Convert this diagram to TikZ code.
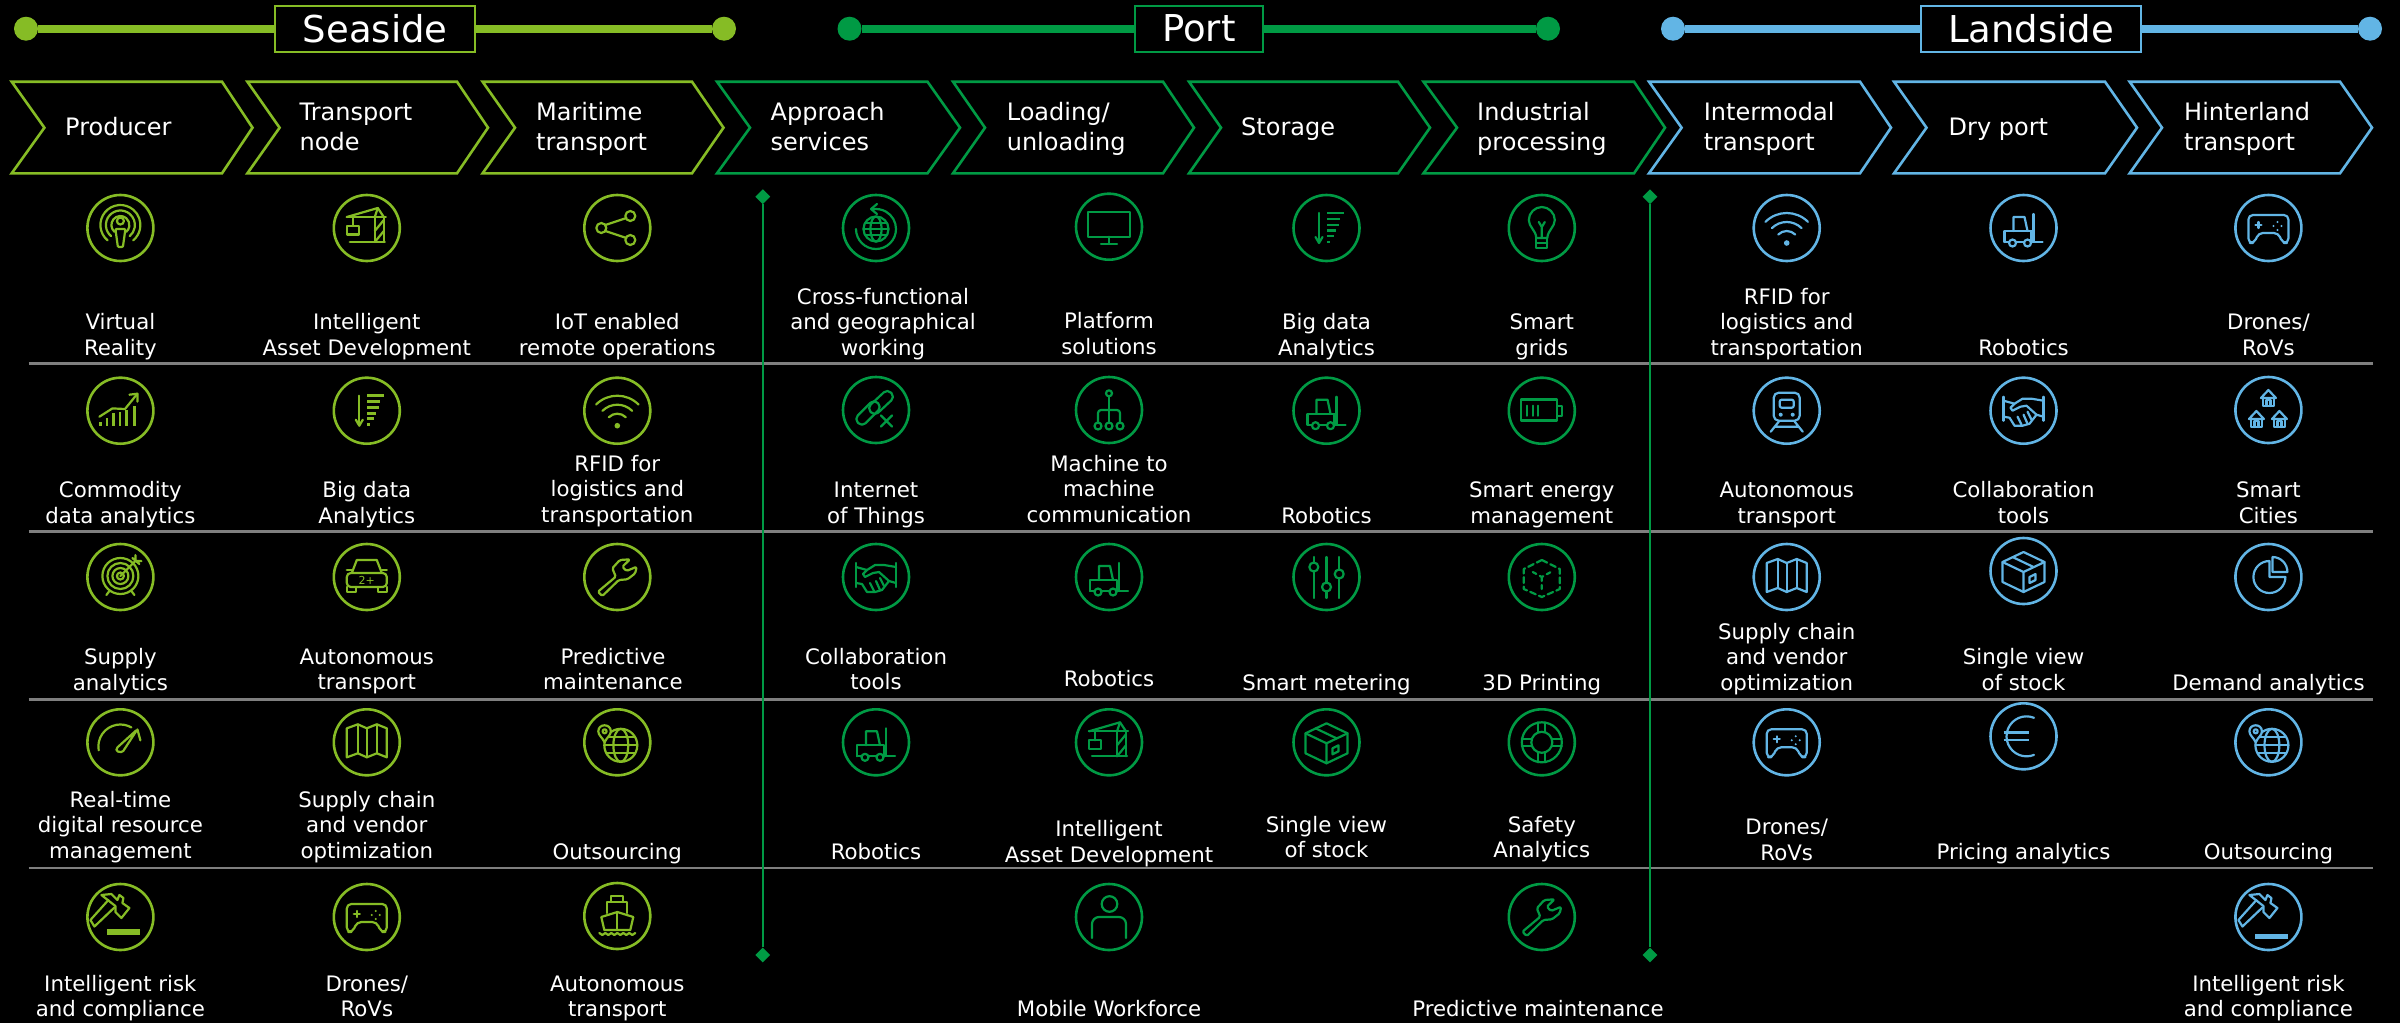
\documentclass[tikz,border=0pt]{standalone}
\usepackage{fontspec}
\setmainfont{DejaVu Sans}
\usetikzlibrary{shapes.geometric}
\definecolor{lime}{HTML}{86BC25}
\definecolor{dgreen}{HTML}{009A44}
\definecolor{sky}{HTML}{62B5E5}
\definecolor{rule}{HTML}{7F7F7F}
\tikzset{
  ring/.style={circle,draw,minimum size=66pt,inner sep=0pt,line width=2.6pt},
  lbl/.style={anchor=base,inner sep=0pt,text=white,font=\fontsize{21.3}{25.5}\selectfont},
  chevtxt/.style={anchor=base west,inner sep=0pt,text=white,font=\fontsize{24}{30.7}\selectfont},
  il/.style={line width=2.2pt,line cap=round,line join=round},
  enddot/.style={circle,fill,minimum size=24pt,inner sep=0pt},
  headbox/.style={draw,fill=black,line width=2.2pt,inner sep=0pt,minimum height=46pt,text=white,font=\fontsize{37}{40}\selectfont},
  hrule/.style={draw=rule,line width=2.6pt},
  endmark/.style={diamond,fill=dgreen,minimum size=15pt,inner sep=0pt}
}
% ---------- helpers
\newcommand{\mkcell}[7]{%
  \node[ring] (#1) at (#2,#3) {};
  \begin{scope}[shift={(#2,#3)},il] #4 \end{scope}
  \node[lbl] (#1t) at (#5,#6) {\begin{tabular}[b]{@{}c@{}}#7\end{tabular}};
}
\newcommand{\mkchev}[8]{%
  \draw[line width=2.6pt,line join=miter] (#2,81.7)--(#4,81.7)--(#5,127.7)--(#4,173.3)--(#2,173.3)--(#3,127.7)--cycle;
  \node[chevtxt] (#1) at (#6,#7) {\begin{tabular}[b]{@{}l@{}}#8\end{tabular}};
}
\newcommand{\gglobe}[3]{%
  \begin{scope}[shift={(#1,#2)}]
    \draw (0,0) circle[radius=#3];
    \draw (0,0) ellipse[x radius=0.45*#3,y radius=#3];
    \draw (-#3,0)--(#3,0);
    \draw ({-0.87*#3},{-0.48*#3})--({0.87*#3},{-0.48*#3});
    \draw ({-0.87*#3},{0.48*#3})--({0.87*#3},{0.48*#3});
  \end{scope}
}
% ---------- icons (local px, y down)
\newcommand{\icVR}{%
  \draw (0,-7) circle[radius=3.5];
  \draw[rounded corners=1pt] (-5,1)--(5,1)--(2.5,19)--(-2.5,19)--cycle;
  \foreach \r in {9,14.5,20}{\draw ({\r*cos(130)},{-3+\r*sin(130)}) arc[start angle=130,end angle=410,radius=\r];}
}
\newcommand{\icCrane}{%
  \draw (-17,14)--(18,14);
  \draw (8,14)--(8,-11) (17,14)--(17,-11);
  \draw (8,14)--(17,3) (8,3)--(17,-8);
  \draw (-20,-11)--(11,-20)--(17,-11);
  \draw (11,-20)--(8,-11);
  \draw (-20,-11)--(19,-11);
  \draw (-14,-11)--(-14,-2);
  \draw (-20,-2) rectangle (-8,6.5);
}
\newcommand{\icShare}{%
  \draw (-12,-3)--(9,-10) (-12,3)--(9,10);
  \fill[black] (-16,0) circle[radius=5];
  \draw (-16,0) circle[radius=5] (13,-12) circle[radius=5] (13,12) circle[radius=5];
}
\newcommand{\icBigData}{%
  \draw (-7.5,-15)--(-7.5,14);
  \draw (-11,9)--(-7.5,15)--(-4,9);
  \begin{scope}[line width=2.8pt,line cap=butt]
  \draw (0.5,-15)--(17,-15) (0.5,-9)--(13.5,-9) (0.5,-3)--(12,-3) (0.5,2.5)--(9,2.5) (0.5,8)--(7,8) (0.5,14)--(3,14);
  \end{scope}
}
\newcommand{\icWifi}{%
  \foreach \r in {12,21,30}{\draw ({\r*cos(225)},{15+\r*sin(225)}) arc[start angle=225,end angle=315,radius=\r];}
  \fill (0,15) circle[radius=2.8];
}
\newcommand{\icGamepad}{%
  \draw[rounded corners=4.5pt] (-10,5)--(-14,15)--(-20,15)--(-20,-13)--(20,-13)--(20,15)--(14,15)--(10,5)--cycle;
  \draw (-13,-3)--(-7,-3) (-10,-6)--(-10,0);
  \fill (9,-6) circle[radius=1.1] (5,-2) circle[radius=1.1] (13,-2) circle[radius=1.1] (9,2) circle[radius=1.1];
}
\newcommand{\icChart}{%
  \begin{scope}[line width=2.2pt,line cap=butt]
  \draw (-20,15)--(-20,11) (-13.5,15)--(-13.5,7.7) (-7,15)--(-7,2.7) (-.5,15)--(-.5,1) (6,15)--(6,-.7) (14,15)--(14,-5);
  \end{scope}
  \draw (-21,6)--(-8,-2.3)--(4.6,-1.7)--(17,-17);
  \draw (9,-16)--(17,-17)--(17,-9);
}
\newcommand{\icLink}{%
  \draw[shift={(-8,3)},rotate=-45,rounded corners=5pt] (-14,-5.5) rectangle (14,5.5);
  \draw[shift={(5,-7.5)},rotate=-43,rounded corners=5pt] (-14,-5.5) rectangle (14,5.5);
  \draw (5,5.5)--(16,16.5) (16,5.5)--(5,16.5);
}
\newcommand{\icGlobeArrow}{%
  \gglobe{0}{1}{12.5}
  \draw (-20,1) arc[start angle=180,end angle=-100,radius=20];
  \draw (1,-24)--(-5,-19)--(1,-14);
}
\newcommand{\icMonitor}{%
  \draw (-21,-15) rectangle (21,10);
  \draw (0,10)--(0,17) (-8,17)--(8,17);
}
\newcommand{\icPeerM}{%
  \draw (0,-16.7) circle[radius=3];
  \draw (0,-13.7)--(0,12);
  \draw[rounded corners=3pt] (-11,12)--(-11,0)--(11,0)--(11,12);
  \draw (-11,16) circle[radius=3.5] (0,16) circle[radius=3.5] (11,16) circle[radius=3.5];
}
\newcommand{\icForklift}{%
  \draw (10,-14)--(10,14)--(19,14);
  \draw (-10,3)--(-10,-11)--(1,-11)--(4,3);
  \draw (-19,14)--(-19,3)--(8,3)--(8,14);
  \draw (-19,14)--(-15,14) (-7.5,14)--(.5,14) (7.5,14)--(10,14);
  \draw (-11,15) circle[radius=3.5] (4,15) circle[radius=3.5];
}
\newcommand{\icBulb}{%
  \draw (-5.5,10) .. controls (-6,2) and (-13,-1) .. (-13,-8) .. controls (-13,-15) and (-7,-21) .. (0,-21)
     .. controls (7,-21) and (13,-15) .. (13,-8) .. controls (13,-1) and (6,2) .. (5.5,10)--cycle;
  \draw (-5.5,10) rectangle (5.5,20);
  \draw (-5.5,15)--(5.5,15);
  \draw (0,10)--(0,-1) (-3,-6)--(0,-1)--(3,-6);
}
\newcommand{\icBattery}{%
  \draw[line width=2.6pt] (-21,-11) rectangle (15,10);
  \draw (15,-5) rectangle (20,5);
  \draw (-15,-5)--(-15,5) (-9,-5)--(-9,5) (-3.5,-5)--(-3.5,5);
}
\newcommand{\icTrain}{%
  \draw[rounded corners=5pt] (-13,-18) rectangle (13,10);
  \draw[rounded corners=2pt] (-7,-11) rectangle (7,-3);
  \fill (-6,4) circle[radius=2] (6,4) circle[radius=2];
  \draw (-8,11)--(-16,21) (8,11)--(16,21) (-12,16)--(12,16);
}
\newcommand{\icShake}{%
  \draw (-20,-14)--(-20,10) (20,-14)--(20,10);
  \draw (-20,-10)--(-9,-7)--(-1,-12)--(8,-12)--(20,-10);
  \draw (-9,-7)--(-13,-3)--(-11,0)--(-3,-4)--(3,-5)--(13,4)--(20,6);
  \draw (-20,6)--(-14,7)--(-9,15)--(-1,15)--(6,13)--(13,4);
  \draw (-6,6)--(-2,14) (0,4)--(4,13) (4,1)--(8,9);
}
\newcommand{\house}[2]{%
  \begin{scope}[shift={(#1,#2)}]
    \draw (-7.5,0)--(0,-8)--(7.5,0)--cycle;
    \draw (-5.5,0)--(-5.5,8)--(5.5,8)--(5.5,0);
    \draw (-2,8)--(-2,2)--(2,2)--(2,8);
  \end{scope}
}
\newcommand{\icHouses}{\house{0}{-12}\house{-12}{9}\house{11}{9}}
\newcommand{\icTarget}{%
  \foreach \r in {18,13,8,3.5}{\draw (0,-1) circle[radius=\r];}
  \draw (0,-1)--(15,-16);
  \draw (12,-19)--(19,-13) (15,-22)--(15,-16)--(21,-16);
  \draw (-11,14)--(-14,18) (11,14)--(14,18);
}
\newcommand{\icCar}{%
  \draw[rounded corners=4pt] (-20,-4) rectangle (20,10);
  \draw (-15,-4)--(-10,-17)--(10,-17)--(15,-4);
  \draw (-20,10)--(-20,15)--(-11,15)--(-11,10) (20,10)--(20,15)--(11,15)--(11,10);
  \draw (-20,-7)--(-15,-7) (20,-7)--(15,-7);
  \node[inner sep=0pt,font=\fontsize{11}{12}\selectfont] (cartxt) at (0,3) {2+};
}
\newcommand{\icWrench}{%
  \draw[rounded corners=1.5pt] (-15,19)--(-19.4,14.7)--(-1.5,-.3)--(-5,-8.7)--(2.5,-17)--(12.8,-17.7)--(5,-10.3)--(9.2,-6)--(19.4,-10.3)--(17.9,-3.7)--(10.2,2.3)--(1.5,3)--cycle;
}
\newcommand{\icSliders}{%
  \draw (-12.7,-20)--(-12.7,21) (0,-20)--(0,21) (12.7,-20)--(12.7,21);
  \filldraw[fill=black] (-12.7,-10) circle[radius=4.5] (0,10) circle[radius=4.5] (12.7,-3) circle[radius=4.5];
}
\newcommand{\icCube}{%
  \draw[dash pattern=on 6pt off 3.5pt] (0,-17)--(18,-8)--(18,12)--(0,20)--(-18,12)--(-18,-8)--cycle;
  \draw[dash pattern=on 4pt off 4pt] (-9,-5)--(0,0)--(9,-5) (0,0)--(0,14);
}
\newcommand{\icMap}{%
  \draw (-20,-14)--(-9,-18)--(0,-14)--(10,-18)--(20,-14)--(20,15)--(10,11)--(0,15)--(-9,11)--(-20,15)--cycle;
  \draw (-9,-18)--(-9,11) (0,-14)--(0,15) (10,-18)--(10,11);
}
\newcommand{\icBox}{%
  \draw (0,-19)--(21,-9)--(21,11)--(0,21)--(-21,11)--(-21,-9)--cycle;
  \draw (-21,-9)--(0,1)--(21,-9) (0,1)--(0,21);
  \draw (-11,-14)--(10,-4);
  \draw (6,6)--(12,3)--(12,9)--(6,12)--cycle;
}
\newcommand{\icPie}{%
  \draw (17,0) arc[start angle=0,end angle=270,radius=16] --(1,0)--cycle;
  \draw (4,-20)--(4,-5)--(19,-5) arc[start angle=0,end angle=-90,radius=15];
}
\newcommand{\icGauge}{%
  \draw (-21.7,8) arc[start angle=170,end angle=300,radius=22];
  \draw[rounded corners=1.5pt] (-4,6)--(17,-13)--(2,10)--(-4,9)--cycle;
  \draw (17,-13)--(20,-2);
}
\newcommand{\icGlobePin}{%
  \gglobe{3.5}{3}{16.5}
  \filldraw[fill=black] (-12.7,0) .. controls (-15,-5) and (-19,-7) .. (-19,-11) .. controls (-19,-19) and (-6.5,-19) .. (-6.5,-11) .. controls (-6.5,-7) and (-10.5,-5) .. (-12.7,0)--cycle;
  \draw (-12.7,-11) circle[radius=2];
}
\newcommand{\icHammer}[2]{%
  \draw (-19,-22)--(-9,-23)--(-3,-17)--(-1,-22)--(3,-19)--(2,-14)--(9,-9)--(1,1)--(-5,-5)--(-5,-11)--cycle;
  \draw (-12,-17)--(-30,3)--(-26,9.5)--(-6,-9.5);
  \fill (-13,#1) rectangle (20,#2);
}
\newcommand{\icShip}{%
  \draw (-6,-14)--(-6,-20)--(6,-20)--(6,-14);
  \draw (-10,-3)--(-10,-14)--(10,-14)--(10,-3);
  \draw (-16,1)--(0,-4)--(16,1)--(13,14)--(-13,14)--cycle;
  \draw (0,-4)--(0,14);
  \draw (-18,17)--(-15,19)--(-12,17)--(-9,19)--(-6,17)--(-3,19)--(0,17)--(3,19)--(6,17)--(9,19)--(12,17)--(15,19)--(18,17);
}
\newcommand{\icPerson}{%
  \draw (0.5,-13) circle[radius=7.8];
  \draw[rounded corners=7pt] (-17,21)--(-17,0)--(17,0)--(17,21);
}
\newcommand{\icEuro}{%
  \draw (10.5,-18.5) arc[start angle=292,end angle=68,radius=20];
  \draw[line width=2.6pt,line cap=butt] (-20,-4)--(5,-4) (-20,3.7)--(5,3.7);
}
\newcommand{\icBuoy}{%
  \draw (0,0) circle[radius=20] (0,0) circle[radius=10.5];
  \foreach \a in {0,90,180,270}{
    \begin{scope}[rotate=\a]
      \draw (10.5,-3.5)--(20,-3.5) (10.5,3.5)--(20,3.5);
    \end{scope}}
}
\begin{document}
\begin{tikzpicture}[x=1pt,y=1pt,yscale=-1]
\fill[black,use as bounding box] (0,0) rectangle (2400,1023);

% ---- headers
\begin{scope}[color=lime]
  \node[enddot] (sl) at (26,28.7) {};
  \node[enddot] (sr) at (724,28.7) {};
  \draw[line width=8pt] (sl)--(sr);
  \node[headbox,minimum width=200pt] (seaside) at (375.2,28.7) {Seaside};
\end{scope}
\begin{scope}[color=dgreen]
  \node[enddot] (pl) at (849.5,28.7) {};
  \node[enddot] (pr) at (1548,28.7) {};
  \draw[line width=8pt] (pl)--(pr);
  \node[headbox,minimum width=128pt] (port) at (1198.8,28.7) {Port};
\end{scope}
\begin{scope}[color=sky]
  \node[enddot] (ll) at (1673,28.7) {};
  \node[enddot] (lr) at (2370,28.7) {};
  \draw[line width=8pt] (ll)--(lr);
  \node[headbox,minimum width=220pt] (landside) at (2031,28.7) {Landside};
\end{scope}

% ---- chevrons
\begin{scope}[color=lime]
  \mkchev{c1}{11.7}{44.4}{222}{252.5}{65}{135.7}{Producer}
  \mkchev{c2}{247.4}{279.6}{457}{488}{299.5}{150.7}{Transport\\node}
  \mkchev{c3}{482.6}{515}{692}{723.5}{536}{150.7}{Maritime\\transport}
\end{scope}
\begin{scope}[color=dgreen]
  \mkchev{c4}{717}{750}{927.5}{960}{770.4}{150.7}{Approach\\services}
  \mkchev{c5}{953}{985}{1163}{1194}{1006.6}{150.7}{Loading/\\unloading}
  \mkchev{c6}{1189}{1221}{1398}{1430}{1241}{135.7}{Storage}
  \mkchev{c7}{1423.5}{1457}{1634}{1665}{1477}{150.7}{Industrial\\processing}
\end{scope}
\begin{scope}[color=sky]
  \mkchev{c8}{1649}{1681.6}{1860}{1891}{1703.6}{150.7}{Intermodal\\transport}
  \mkchev{c9}{1894}{1926.5}{2105}{2137}{1948.5}{135.7}{Dry port}
  \mkchev{c10}{2129.6}{2162}{2340}{2372}{2184}{150.7}{Hinterland\\transport}
\end{scope}

% ---- row rules
\coordinate (ra1) at (28.5,363.3); \coordinate (rb1) at (2373,363.3);
\coordinate (ra2) at (28.5,531.7); \coordinate (rb2) at (2373,531.7);
\coordinate (ra3) at (28.5,699.7); \coordinate (rb3) at (2373,699.7);
\coordinate (ra4) at (28.5,868);   \coordinate (rb4) at (2373,868);
\foreach \i in {1,2,3,4}{\draw[hrule] (ra\i)--(rb\i);}

% ---- vertical markers
\node[endmark] (va1) at (762.8,196.7) {};
\node[endmark] (va2) at (762.8,955) {};
\node[endmark] (vb1) at (1650,196.7) {};
\node[endmark] (vb2) at (1650,955) {};
\draw[dgreen,line width=2.4pt] (va1)--(va2);
\draw[dgreen,line width=2.4pt] (vb1)--(vb2);

% ---- column 1
\begin{scope}[color=lime]
\mkcell{a1}{120.4}{228}{\icVR}{120.4}{355}{Virtual\ \\Reality}
\mkcell{a2}{120.4}{410.7}{\icChart}{120.4}{523}{Commodity\ \\data analytics}
\mkcell{a3}{120.4}{577}{\icTarget}{120.4}{690}{Supply\\analytics}
\mkcell{a4}{120.4}{742.3}{\icGauge}{120.4}{858}{Real-time\\digital resource\\management}
\mkcell{a5}{120.4}{917}{\icHammer{11.5}{18}}{120.4}{1016.7}{Intelligent risk\ \\and compliance}
% column 2
\mkcell{b1}{366.8}{228}{\icCrane}{366.8}{355}{Intelligent\ \\Asset Development}
\mkcell{b2}{366.8}{410.7}{\icBigData}{366.8}{523}{Big data\ \\Analytics}
\mkcell{b3}{366.8}{577}{\icCar}{366.8}{689.5}{Autonomous\\transport}
\mkcell{b4}{366.8}{742.3}{\icMap}{366.8}{858}{Supply chain\\and vendor\\optimization}
\mkcell{b5}{366.8}{917}{\icGamepad}{366.8}{1016.7}{Drones/\\RoVs}
% column 3
\mkcell{d1}{617.3}{228}{\icShare}{617.3}{355}{IoT enabled\ \\remote operations}
\mkcell{d2}{617.3}{410.7}{\icWifi}{617.3}{522}{RFID for\\logistics and\\transportation}
\mkcell{d3}{617.3}{577}{\icWrench}{613}{689.5}{Predictive\\maintenance}
\mkcell{d4}{617.3}{742.3}{\icGlobePin}{617.3}{859}{Outsourcing}
\mkcell{d5}{617.3}{916}{\icShip}{617.3}{1016.7}{Autonomous\\transport}
\end{scope}
\begin{scope}[color=dgreen]
% column 4
\mkcell{e1}{876}{228}{\icGlobeArrow}{883}{355}{Cross-functional\\and geographical\\working}
\mkcell{e2}{876}{410}{\icLink}{876}{523}{Internet\ \\of Things}
\mkcell{e3}{876}{577}{\icShake}{876}{689.5}{Collaboration\\tools}
\mkcell{e4}{876}{742.3}{\icForklift}{876}{859}{Robotics}
% column 5
\mkcell{f1}{1109}{226.7}{\icMonitor}{1109}{354}{Platform\\solutions}
\mkcell{f2}{1109}{410}{\icPeerM}{1109}{522}{Machine to\ \\machine\ \\communication}
\mkcell{f3}{1109}{577}{\icForklift}{1109}{686.7}{Robotics}
\mkcell{f4}{1109}{742.3}{\icCrane}{1109}{862.3}{Intelligent\ \\Asset Development}
\mkcell{f5}{1109}{917}{\icPerson}{1109}{1016.7}{Mobile Workforce}
% column 6
\mkcell{g1}{1326.5}{228}{\icBigData}{1326.5}{355}{Big data\ \\Analytics}
\mkcell{g2}{1326.5}{410.7}{\icForklift}{1326.5}{523}{Robotics}
\mkcell{g3}{1326.5}{577}{\icSliders}{1326.5}{690.5}{Smart metering}
\mkcell{g4}{1326.5}{742.3}{\icBox}{1326.5}{857.7}{Single view\\of stock}
% column 7
\mkcell{h1}{1541.8}{228}{\icBulb}{1541.8}{355}{Smart\ \\grids}
\mkcell{h2}{1541.8}{410.7}{\icBattery}{1541.8}{523}{Smart energy\ \\management}
\mkcell{h3}{1541.8}{577}{\icCube}{1541.8}{690.5}{3D Printing}
\mkcell{h4}{1541.8}{742.3}{\icBuoy}{1541.8}{857.7}{Safety\\Analytics}
\mkcell{h5}{1541.8}{917}{\icWrench}{1538}{1016.7}{Predictive maintenance}
\end{scope}
\begin{scope}[color=sky]
% column 8
\mkcell{k1}{1786.7}{228}{\icWifi}{1786.7}{355}{RFID for\\logistics and\\transportation}
\mkcell{k2}{1786.7}{410.7}{\icTrain}{1786.7}{523}{Autonomous\\transport}
\mkcell{k3}{1786.7}{577}{\icMap}{1786.7}{690}{Supply chain\\and vendor\\optimization}
\mkcell{k4}{1786.7}{742.3}{\icGamepad}{1786.7}{860}{Drones/\\RoVs}
% column 9
\mkcell{m1}{2023.5}{228}{\icForklift}{2023.5}{355}{Robotics}
\mkcell{m2}{2023.5}{410.7}{\icShake}{2023.5}{523}{Collaboration\\tools}
\mkcell{m3}{2023.5}{571}{\icBox}{2023.5}{690}{Single view\\of stock}
\mkcell{m4}{2023.5}{736.3}{\icEuro}{2023.5}{859}{Pricing analytics}
% column 10
\mkcell{n1}{2268.4}{228}{\icGamepad}{2268.4}{355}{Drones/\\RoVs}
\mkcell{n2}{2268.4}{410}{\icHouses}{2268.4}{523}{Smart\ \\Cities}
\mkcell{n3}{2268.4}{577}{\icPie}{2268.4}{690.5}{Demand analytics}
\mkcell{n4}{2268.4}{742.3}{\icGlobePin}{2268.4}{859}{Outsourcing}
\mkcell{n5}{2268.4}{917}{\icHammer{17}{22}}{2268.4}{1016.7}{Intelligent risk\ \\and compliance}
\end{scope}
\end{tikzpicture}
\end{document}
